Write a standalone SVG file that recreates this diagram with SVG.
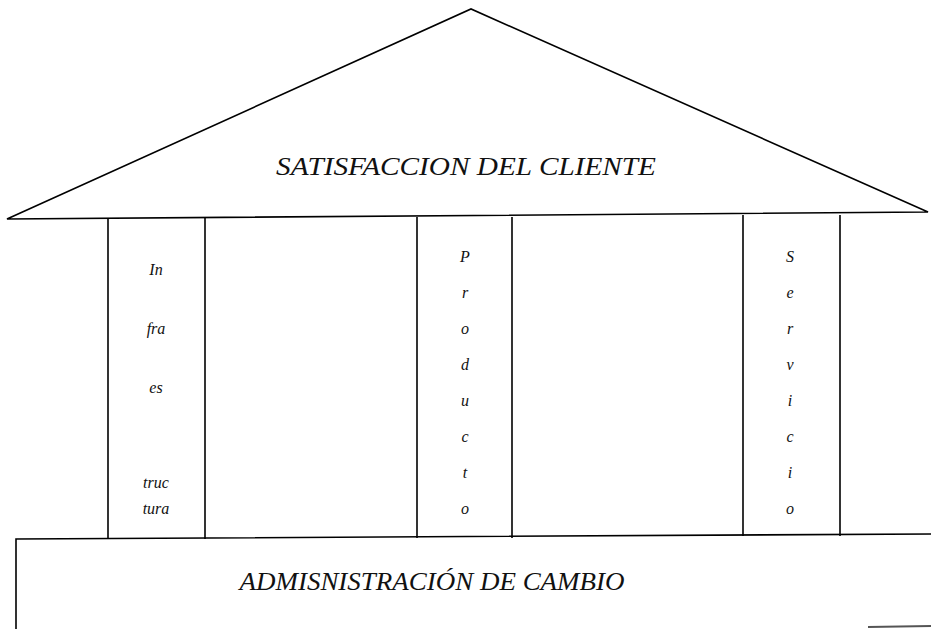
<svg xmlns="http://www.w3.org/2000/svg" width="931" height="629" viewBox="0 0 931 629">
<style>
.ln{fill:none;stroke:#000;stroke-width:1.6;stroke-linejoin:miter}
.t{font-family:"Liberation Serif","Times New Roman",serif;font-style:italic;fill:#111}
.c{font-size:16px;text-anchor:middle}
</style>
<rect width="931" height="629" fill="#fff"/>
<g id="roof">
<path class="ln" d="M7,219 L471,9 L928,212 L7,219 Z"/>
<text class="t" x="466" y="175" font-size="26" text-anchor="middle" textLength="380" lengthAdjust="spacingAndGlyphs">SATISFACCION DEL CLIENTE</text>
</g>
<g id="col-infraestructura">
<line class="ln" x1="108" y1="218" x2="108" y2="539"/>
<line class="ln" x1="205" y1="218" x2="205" y2="539"/>
<text class="t c" x="156" y="275">In</text>
<text class="t c" x="156" y="334">fra</text>
<text class="t c" x="156" y="393">es</text>
<text class="t c" x="156" y="488">truc</text>
<text class="t c" x="156" y="514">tura</text>
</g>
<g id="col-producto">
<line class="ln" x1="417" y1="217" x2="417" y2="538"/>
<line class="ln" x1="512" y1="217" x2="512" y2="538"/>
<text class="t c" x="465" y="262">P</text>
<text class="t c" x="465" y="298">r</text>
<text class="t c" x="465" y="334">o</text>
<text class="t c" x="465" y="370">d</text>
<text class="t c" x="465" y="406">u</text>
<text class="t c" x="465" y="442">c</text>
<text class="t c" x="465" y="478">t</text>
<text class="t c" x="465" y="514">o</text>
</g>
<g id="col-servicio">
<line class="ln" x1="743" y1="215" x2="743" y2="536"/>
<line class="ln" x1="840" y1="215" x2="840" y2="536"/>
<text class="t c" x="790" y="262">S</text>
<text class="t c" x="790" y="298">e</text>
<text class="t c" x="790" y="334">r</text>
<text class="t c" x="790" y="370">v</text>
<text class="t c" x="790" y="406">i</text>
<text class="t c" x="790" y="442">c</text>
<text class="t c" x="790" y="478">i</text>
<text class="t c" x="790" y="514">o</text>
</g>
<g id="base">
<path class="ln" d="M16,629 L16,539 L931,534"/>
<line x1="868" y1="627" x2="931" y2="626" stroke="#555" stroke-width="2"/>
<text class="t" x="432" y="590" font-size="26" text-anchor="middle" textLength="385" lengthAdjust="spacingAndGlyphs">ADMISNISTRACIÓN DE CAMBIO</text>
</g>
<g id="connectors"/>
</svg>
